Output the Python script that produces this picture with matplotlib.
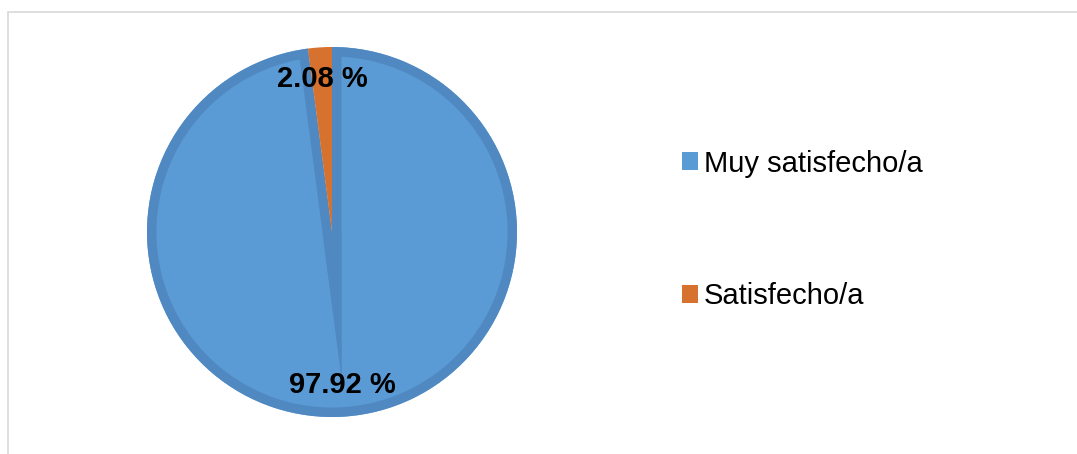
import numpy as np
import matplotlib
matplotlib.use("Agg")
import matplotlib.pyplot as plt
from matplotlib.patches import Patch, Polygon, Rectangle, Wedge

# datos de la encuesta
categorias = ["Muy satisfecho/a", "Satisfecho/a"]
porcentajes = [97.92, 2.08]
colores = ["#5B9BD5", "#D6712E"]
borde = "#5089C2"

plt.rcParams["font.family"] = ["Liberation Sans", "DejaVu Sans"]

W, H = 1077, 454
fig = plt.figure(figsize=(W / 100, H / 100), dpi=100)

# marco gris claro del area del grafico
fig.patches.append(Rectangle((8 / W, -0.1), 1.2, 1.1 - 12 / H, transform=fig.transFigure,
                             fill=False, edgecolor="#D9D9D9", linewidth=1.2))

cx, cy, r = 332, 232, 185
ax = fig.add_axes([(cx - r) / W, (H - cy - r) / H, 2 * r / W, 2 * r / H])

wedges, _, autotexts = ax.pie(porcentajes, colors=colores, startangle=90, counterclock=False,
                              autopct="%.2f %%", pctdistance=0.83, radius=1,
                              wedgeprops=dict(linewidth=0),
                              textprops=dict(fontsize=21, fontweight="bold", color="black"))

# borde interior oscuro de la porcion azul (recortado a la propia porcion)
w = 9.5 / r
azul = wedges[0]
contorno = Wedge(azul.center, azul.r, azul.theta1, azul.theta2, fill=False,
                 edgecolor=borde, linewidth=2 * w * r * 72 / 100, zorder=1.2)
ax.add_patch(contorno)
contorno.set_clip_path(azul.get_path(), azul.get_transform())
wedges[1].set_zorder(2)

# pico del ingleteado en el centro (como lo dibuja Excel)
t_a = np.deg2rad(azul.theta2)
t_b = np.deg2rad(azul.theta1)
media = (t_a + t_b + 2 * np.pi) / 2
medio_ang = ((t_b + 2 * np.pi) - t_a) / 2
p1 = w * np.array([np.cos(t_a - np.pi / 2), np.sin(t_a - np.pi / 2)])
p2 = w * np.array([np.cos(t_b + np.pi / 2), np.sin(t_b + np.pi / 2)])
largo = w / np.sin(medio_ang)
punta = largo * np.array([np.cos(media + np.pi), np.sin(media + np.pi)])
ax.add_patch(Polygon([p1, punta, p2, [0, 0]], closed=True, facecolor=borde,
                     edgecolor="none", zorder=1.5))

for t in autotexts:
    t.set_zorder(5)

ax.set_xlim(-1, 1)
ax.set_ylim(-1, 1)
ax.axis("off")

handles = [Patch(facecolor=c, edgecolor="none") for c in colores]
fig.legend(handles, categorias, loc="center left", bbox_to_anchor=(682 / W, 1 - 230 / H),
           frameon=False, fontsize=21, borderpad=0, borderaxespad=0,
           handlelength=0.55, handleheight=0.55, handletextpad=0.2, labelspacing=3.6)

fig.savefig("out.png", dpi=100)
